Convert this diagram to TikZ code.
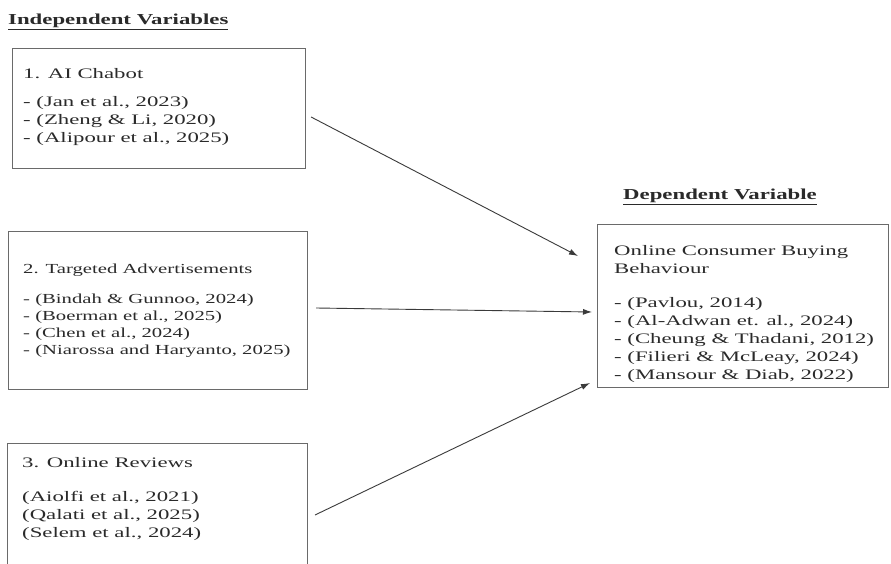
\documentclass[tikz,border=0pt]{standalone}
\usepackage{fontspec}
\setmainfont{Liberation Serif}[FakeStretch=1.5]
\newfontfamily\widefont{Liberation Serif}[FakeStretch=1.57]
\usetikzlibrary{arrows.meta,calc}
\definecolor{inkc}{HTML}{2A2A2A}
\definecolor{boxc}{HTML}{6A6A6A}
\definecolor{arrc}{HTML}{3A3A3A}
\begin{document}
\begin{tikzpicture}[x=1pt,y=-1pt,
  box/.style={draw=boxc,line width=1.1pt,rectangle,inner sep=0pt,anchor=north west},
  txt/.style={inner sep=0pt,anchor=north west,align=left,text=inkc,font=\widefont\fontsize{14.5}{18}\selectfont},
  ttl/.style={inner sep=0pt,anchor=base west,text=inkc,font=\fontsize{15.2}{18}\selectfont\bfseries},
  arr/.style={draw=arrc,line width=0.9pt,-{Latex[length=9pt,width=6pt]}}]
\useasboundingbox (0,0) rectangle (891,564);
\clip (0,0) rectangle (891,564);
\fill[white] (0,0) rectangle (891,564);
% titles
\node[ttl] (ivt) at (8,25) {\underline{Independent Variables}};
\node[ttl] (dvt) at (623,200) {\underline{Dependent Variable}};
% boxes
\node[box,minimum width=293pt,minimum height=120pt] (b1) at (12,48) {};
\node[box,minimum width=299pt,minimum height=158pt] (b2) at (8,231) {};
\node[box,minimum width=300pt,minimum height=160pt] (b3) at (7,443) {};
\node[box,minimum width=291pt,minimum height=163pt] (dv) at (597,224) {};
% texts (top = first baseline - 0.7 baselineskip)
\node[txt] (t1) at (23,65.4) {\strut 1. AI Chabot\\[10pt]- (Jan et al., 2023)\\- (Zheng \& Li, 2020)\\- (Alipour et al., 2025)};
\node[txt,font=\fontsize{13.8}{17}\selectfont] (t2) at (23,261.1) {\strut 2. Targeted Advertisements\\[13pt]- (Bindah \& Gunnoo, 2024)\\- (Boerman et al., 2025)\\- (Chen et al., 2024)\\- (Niarossa and Haryanto, 2025)};
\node[txt] (t3) at (22,454.4) {\strut 3. Online Reviews\\[16pt](Aiolfi et al., 2021)\\(Qalati et al., 2025)\\(Selem et al., 2024)};
\node[txt] (td) at (614,242.4) {\strut Online Consumer Buying\\Behaviour\\[16pt]- (Pavlou, 2014)\\- (Al-Adwan et. al., 2024)\\- (Cheung \& Thadani, 2012)\\- (Filieri \& McLeay, 2024)\\- (Mansour \& Diab, 2022)};
% arrows
\draw[arr] ($(b1.north east)+(5,69)$) -- ($(dv.north west)+(-19,32)$);
\draw[arr] ($(b2.north east)+(8,77)$) -- ($(dv.north west)+(-5,88)$);
\draw[arr] ($(b3.north west)+(308,72)$) -- ($(dv.north west)+(-7,159)$);
\end{tikzpicture}
\end{document}
